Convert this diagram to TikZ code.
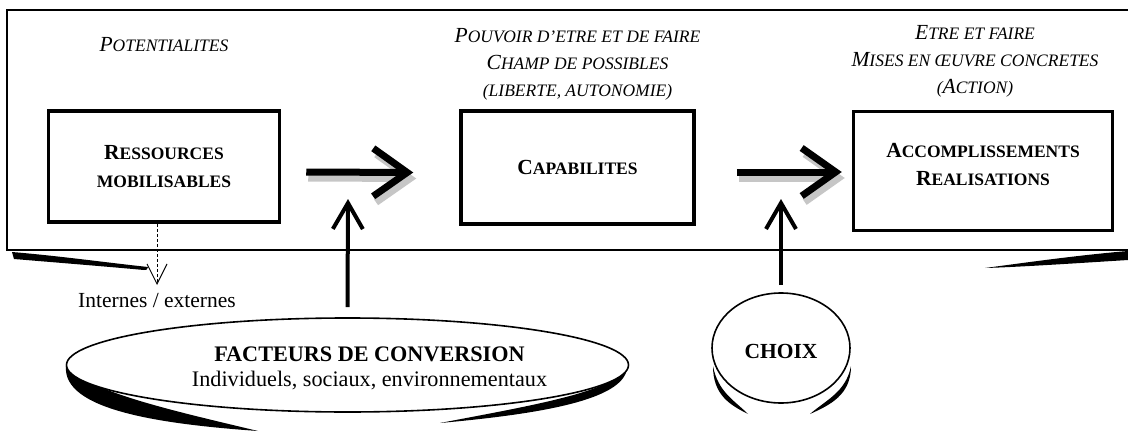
\documentclass[tikz,border=0pt]{standalone}
\usepackage{fontspec}
\setmainfont{Liberation Serif}
\usetikzlibrary{arrows.meta,positioning,shapes.geometric}
\newcommand\petcap[2]{#1{\fontsize{17.5}{20}\selectfont #2}}
\newcommand\petit[1]{{\fontsize{17.5}{20}\selectfont #1}}

\begin{document}
\begin{tikzpicture}[
      x=1pt, y=-1pt,
      font=\fontsize{21.5}{27}\selectfont,
      frame/.style={line width=1.6pt},
      box/.style={rectangle, draw, line width=3.5pt, align=center, inner sep=0pt, font=\fontsize{21.5}{28}\selectfont\bfseries},
      header/.style={align=center, inner sep=0pt, font=\fontsize{21.5}{27}\selectfont\itshape},
      oval/.style={ellipse, draw, fill=white, line width=1.6pt, inner sep=0pt},
      convtext/.style={align=center, inner sep=0pt, xshift=22pt, yshift=-3.5pt, font=\fontsize{22.2}{25}\selectfont},
      curl/.style={fill=black},
      fat/.style={line width=7pt, -{Straight Barb[length=34pt,width=48pt]}},
      fatshade/.style={fat, gray!45},
      uparrow/.style={line width=4pt, -{Straight Barb[length=26pt,width=30pt]}},
      dasharrow/.style={densely dashed, line width=1pt, -{Straight Barb[length=20pt,width=20pt]}}
    ]
    \useasboundingbox (0,0) rectangle (1128,444);

    % Frame and its curled shadow
    \fill[curl] (12,252) .. controls (60,256) and (110,263) .. (148,267) .. controls (148,270) and (146,270) .. (144,270) .. controls (100,266) and (50,262) .. (14,259) -- cycle;
    \fill[curl] (1128,251) -- (1128,260) .. controls (1080,263) and (1020,267) .. (985,268) .. controls (1030,262) and (1080,255) .. (1128,251) -- cycle;
    \draw[frame] (1128,10) -- (7,10) -- (7,250) -- (1128,250);

    % The three stages
    \node[box, minimum width=231pt, minimum height=111pt] (ress) at (164,166.5) {\petcap{R}{ESSOURCES}\\\petit{MOBILISABLES}};
    \node[box, minimum width=233pt, minimum height=113pt] (capa) at (577.5,167.5) {\petcap{C}{APABILITES}};
    \node[box, minimum width=259pt, minimum height=119pt, text depth=14pt] (accomp) at (983,171) {\petcap{A}{CCOMPLISSEMENTS}\\\petcap{R}{EALISATIONS}};

    % Headers
    \node[header, above=57pt of ress] (potent) {\petcap{P}{OTENTIALITES}};
    \node[header, above=9pt of capa] (pouvoir) {\petcap{P}{OUVOIR D'ETRE ET DE FAIRE}\\\petcap{C}{HAMP DE POSSIBLES}\\\petit{(LIBERTE, AUTONOMIE)}};
    \node[header, above=12pt of accomp, xshift=-8pt] (etre) {\petcap{E}{TRE ET FAIRE}\\\petcap{M}{ISES EN ŒUVRE CONCRETES}\\\petit{(}\petcap{A}{CTION)}};

    % Big arrows between stages
    \draw[fatshade] ([xshift=27pt,yshift=-11.5pt]ress.east) -- ([xshift=-43pt,yshift=-11pt]capa.west);
    \draw[fat] ([xshift=25pt,yshift=-5.5pt]ress.east) -- ([xshift=-46pt,yshift=-5pt]capa.west);
    \draw[fatshade] ([xshift=43pt,yshift=-10.5pt]capa.east) -- ([xshift=-7pt,yshift=-7pt]accomp.west);
    \draw[fat] ([xshift=41pt,yshift=-4.5pt]capa.east) -- ([xshift=-10pt,yshift=-1pt]accomp.west);

    % Conversion factors
    \fill[curl] (66,366) .. controls (90,392) and (170,410) .. (258,431) .. controls (160,424) and (62,410) .. (66,366) -- cycle;
    \fill[curl] (627,368) .. controls (624,400) and (540,414) .. (440,423) .. controls (540,404) and (610,392) .. (627,368) -- cycle;
    \node[oval, minimum width=562pt, minimum height=94pt,
      label={[convtext]center:{\bfseries FACTEURS DE CONVERSION}\\Individuels, sociaux, environnementaux}] (conv) at (347.5,365) {};

    % Choice
    \fill[curl] (713,366) .. controls (713,395) and (730,405) .. (748,414) .. controls (734,400) and (718,392) .. (713,366) -- cycle;
    \fill[curl] (851,366) .. controls (851,395) and (830,405) .. (810,414) .. controls (826,400) and (846,392) .. (851,366) -- cycle;
    \node[oval, minimum width=138pt, minimum height=110pt, text height=22pt, font=\fontsize{21.5}{27}\selectfont\bfseries] (choix) at (781,348) {CHOIX};

    % Upward arrows
    \coordinate (tip1) at (348,199);
    \coordinate (tip2) at (781,199);
    \draw[uparrow] ([yshift=10pt]conv.north) -- (tip1);
    \draw[uparrow] ([yshift=7pt]choix.north) -- (tip2);

    % Internal / external resources
    \coordinate (tipd) at (157,285);
    \draw[dasharrow] ([xshift=-7pt]ress.south) -- (tipd);
    \node[below=8pt of tipd, inner sep=0pt] (intext) {Internes / externes};
\end{tikzpicture}
\end{document}
